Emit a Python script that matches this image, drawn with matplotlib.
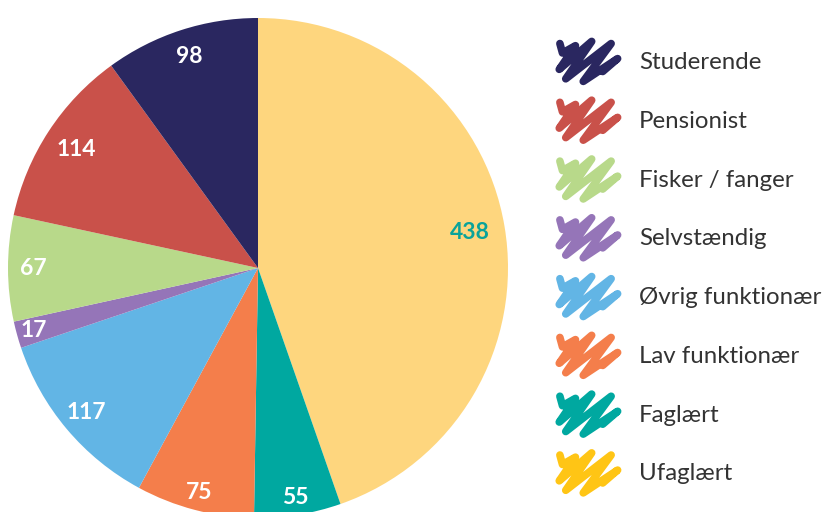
import numpy as np
import matplotlib.pyplot as plt
from matplotlib.legend_handler import HandlerBase
from matplotlib.lines import Line2D

plt.rcParams['font.family'] = ['Lato', 'DejaVu Sans']

# slices, clockwise from the top
categories = ["Ufaglært", "Faglært", "Lav funktionær", "Øvrig funktionær",
              "Selvstændig", "Fisker / fanger", "Pensionist", "Studerende"]
values = [438, 55, 75, 117, 17, 67, 114, 98]
slice_colors = ["#FED67E", "#00A8A0", "#F47E4B", "#62B5E5",
                "#9575B8", "#B8D98A", "#C9514A", "#2A2760"]
legend_colors = ["#FFC515", "#00A8A0", "#F47E4B", "#62B5E5",
                 "#9575B8", "#B8D98A", "#C9514A", "#2A2760"]
# how far out each value label sits (fraction of radius)
label_r = [0.86, 0.93, 0.93, 0.90, 0.93, 0.90, 0.87, 0.89]
total = sum(values)


class ScribbleHandler(HandlerBase):
    # zigzag "scribble" instead of the usual patch
    def create_artists(self, legend, orig_handle, xdescent, ydescent,
                       width, height, fontsize, trans):
        px = [0.06, 0.10, 0.30, 0.05, 0.55, 0.15, 0.85, 0.42, 0.95, 0.72]
        py = [0.90, 0.68, 0.85, 0.30, 0.95, 0.08, 0.90, 0.02, 0.55, 0.25]
        h = height * 2.0
        xs = [x * width - xdescent for x in px]
        ys = [(y - 0.5) * h + height / 2 - ydescent for y in py]
        line = Line2D(xs, ys, color=orig_handle.get_color(), lw=5.5,
                      solid_capstyle="round", solid_joinstyle="round",
                      transform=trans)
        return [line]


fig = plt.figure(figsize=(8.25, 5.12), dpi=100)
ax = fig.add_axes([8 / 825, -6 / 512, 500 / 825, 500 / 512])

wedges, texts, autotexts = ax.pie(
    values, colors=slice_colors, startangle=90, counterclock=False,
    radius=1, pctdistance=0.87,
    autopct=lambda p: "{:d}".format(int(round(p * total / 100))),
    wedgeprops=dict(linewidth=0),
    textprops=dict(color="white", fontsize=16.5, fontweight="bold"))
autotexts[0].set_color("#0AA39A")
for w, t, r in zip(wedges, autotexts, label_r):
    ang = np.deg2rad((w.theta1 + w.theta2) / 2)
    t.set_position((r * np.cos(ang), r * np.sin(ang)))
ax.set_xlim(-1, 1)
ax.set_ylim(-1, 1)
ax.set_aspect("equal")
ax.axis("off")

handles = [Line2D([], [], color=c) for c in legend_colors[::-1]]
fig.legend(handles, categories[::-1], handler_map={Line2D: ScribbleHandler()},
           loc="upper left", bbox_to_anchor=(556 / 825, 1 - 50 / 512),
           frameon=False, fontsize=17.3, labelcolor="#333333",
           handlelength=2.7, handleheight=1.0, handletextpad=0.75,
           labelspacing=1.49, borderpad=0, borderaxespad=0)

plt.savefig("out.png", dpi=100)
